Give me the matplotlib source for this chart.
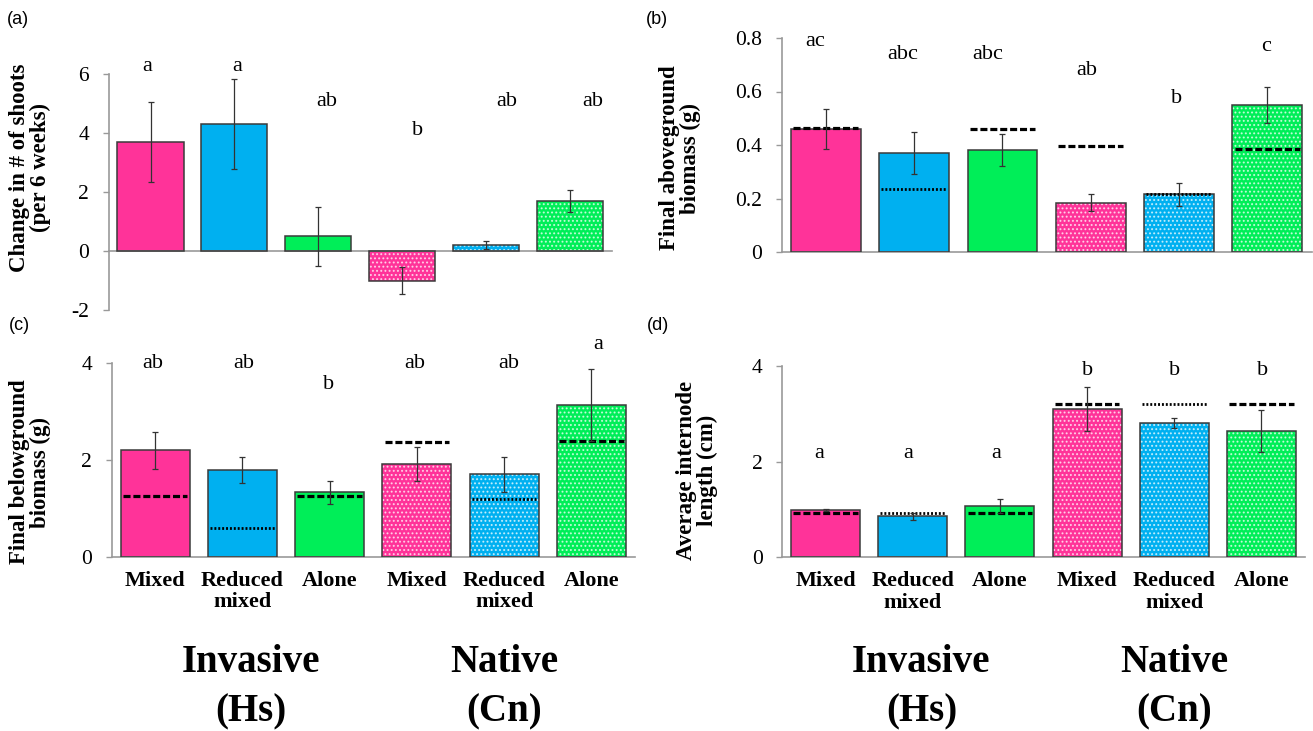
import numpy as np
import matplotlib.pyplot as plt
from matplotlib import transforms

plt.rcParams['font.family'] = ['Liberation Serif', 'DejaVu Serif']
plt.rcParams['hatch.linewidth'] = 0.9

# treatment groups: invasive (Hs) then native (Cn)
categories = ['Mixed', 'Reduced\nmixed', 'Alone', 'Mixed', 'Reduced\nmixed', 'Alone']
groups = ['Invasive', 'Native']
group_codes = ['(Hs)', '(Cn)']

# (a) change in number of shoots
shoots = [3.7, 4.3, 0.5, -1.0, 0.2, 1.7]
shoots_err = [1.35, 1.52, 1.0, 0.45, 0.13, 0.37]
shoots_letters = ['a', 'a', 'ab', 'b', 'ab', 'ab']

# (b) final aboveground biomass
above = [0.46, 0.37, 0.38, 0.185, 0.215, 0.55]
above_err = [0.076, 0.079, 0.06, 0.03, 0.043, 0.066]
above_ref = [0.462, 0.234, 0.46, 0.396, 0.217, 0.386]
above_letters = ['ac', 'abc', 'abc', 'ab', 'b', 'c']

# (c) final belowground biomass
below = [2.2, 1.79, 1.33, 1.92, 1.71, 3.14]
below_err = [0.38, 0.27, 0.23, 0.35, 0.36, 0.74]
below_ref = [1.25, 0.60, 1.25, 2.37, 1.20, 2.40]
below_letters = ['ab', 'ab', 'b', 'ab', 'ab', 'a']

# (d) average internode length
internode = [0.99, 0.86, 1.08, 3.10, 2.81, 2.64]
internode_err = [0.03, 0.07, 0.145, 0.46, 0.10, 0.44]
internode_ref = [0.935, 0.935, 0.935, 3.21, 3.21, 3.21]
internode_letters = ['a', 'a', 'a', 'b', 'b', 'b']

colors = ['#FF3399', '#00B0F0', '#00EE58', '#FF3399', '#00B0F0', '#00EE58']
native = [False, False, False, True, True, True]
ref_dotted = [False, True, False, False, True, False]

W, H = 1313, 731
fig = plt.figure(figsize=(W / 100, H / 100), dpi=100)


def px_axes(left, right, top, bottom):
    return fig.add_axes([left / W, 1 - bottom / H, (right - left) / W, (bottom - top) / H])


def draw_panel(ax, vals, errs, refs, letters, letter_pos, ylim, yticks, yticklabels):
    x = np.arange(len(vals))
    ax.bar(x, vals, width=0.79, color=colors, edgecolor='none', linewidth=0, zorder=2)
    for i in x:
        if native[i]:
            ax.bar(i, vals[i], width=0.79, color='none', edgecolor=(1, 1, 1, 0.7),
                   linewidth=0, hatch='....', zorder=2.5)
    ax.bar(x, vals, width=0.79, fill=False, edgecolor='#3a3a3a', linewidth=1.1, zorder=3)
    if refs is not None:
        for i in x:
            if ref_dotted[i]:
                ax.plot([i - 0.37, i + 0.37], [refs[i]] * 2, color='black', lw=2.0,
                        linestyle=(0, (0.7, 0.7)), solid_capstyle='butt', zorder=4)
            else:
                ax.plot([i - 0.37, i + 0.37], [refs[i]] * 2, color='black', lw=2.3,
                        linestyle=(0, (2.2, 0.9)), zorder=4)
    ax.errorbar(x, vals, yerr=errs, fmt='none', ecolor='#333333', elinewidth=0.9,
                capsize=2.2, capthick=0.9, zorder=5)
    for s, (lx, ly) in zip(letters, letter_pos):
        ax.text(lx, ly, s, ha='center', va='center', fontsize=16, clip_on=False)

    ax.set_xlim(-0.5, len(vals) - 0.5)
    ax.set_ylim(*ylim)
    ax.set_yticks(yticks)
    ax.set_yticklabels(yticklabels, fontsize=15.5)
    for side in ['top', 'right']:
        ax.spines[side].set_visible(False)
    for side in ['left', 'bottom']:
        ax.spines[side].set_color('#999999')
        ax.spines[side].set_linewidth(1.2)
    ax.spines['bottom'].set_position(('data', 0))
    ax.tick_params(axis='y', direction='out', length=4.5, width=1, color='#999999', pad=9.5)
    ax.tick_params(axis='x', length=0)
    ax.set_xticks(x)
    ax.set_xticklabels([])
    ax.patch.set_alpha(0)


ax_a = px_axes(108.6, 611.6, 74, 310)
draw_panel(ax_a, shoots, shoots_err, None, shoots_letters,
           [(-0.04, 6.25), (1.03, 6.25), (2.1, 5.06), (3.19, 4.1), (4.25, 5.06), (5.27, 5.06)],
           (-2, 6), [-2, 0, 2, 4, 6], ['-2', '0', '2', '4', '6'])

ax_b = px_axes(781.6, 1311.5, 38, 252)
draw_panel(ax_b, above, above_err, above_ref, above_letters,
           [(-0.12, 0.786), (0.87, 0.739), (1.83, 0.739), (2.95, 0.678), (3.97, 0.575), (4.98, 0.77)],
           (0, 0.8), [0, 0.2, 0.4, 0.6, 0.8], ['0', '0.2', '0.4', '0.6', '0.8'])

ax_c = px_axes(111.5, 635, 363, 557)
draw_panel(ax_c, below, below_err, below_ref, below_letters,
           [(-0.03, 3.99), (1.02, 3.99), (1.99, 3.55), (2.98, 3.99), (4.05, 3.99), (5.08, 4.39)],
           (0, 4), [0, 2, 4], ['0', '2', '4'])

ax_d = px_axes(782, 1305, 366, 557.3)
draw_panel(ax_d, internode, internode_err, internode_ref, internode_letters,
           [(-0.07, 2.18), (0.95, 2.18), (1.96, 2.18), (3.01, 3.9), (4.0, 3.9), (5.01, 3.9)],
           (0, 4), [0, 2, 4], ['0', '2', '4'])

# category names and species groups under the lower panels
for ax in (ax_c, ax_d):
    ax.set_xticklabels(categories, fontsize=16, fontweight='bold', linespacing=1.1)
    ax.tick_params(axis='x', pad=10)
    trans = transforms.blended_transform_factory(ax.transData, fig.transFigure)
    for gx, name, code in zip([1.1, 4.0], groups, group_codes):
        ax.text(gx, 1 - 662 / H, name, transform=trans, ha='center', va='center',
                fontsize=28, fontweight='bold')
        ax.text(gx, 1 - 712 / H, code, transform=trans, ha='center', va='center',
                fontsize=28, fontweight='bold')

# y axis titles
ylabels = [
    ('Change in # of shoots\n(per 6 weeks)', 30, 168),
    ('Final aboveground\nbiomass (g)', 680, 158),
    ('Final belowground\nbiomass (g)', 30, 472),
    ('Average internode\nlength (cm)', 697, 470),
]
for text, lx, ly in ylabels:
    fig.text(lx / W, 1 - ly / H, text, rotation=90, ha='center', va='center',
             fontsize=16.5, fontweight='bold', linespacing=0.95, multialignment='center')

# panel tags
for tag, tx, ty in [('(a)', 18, 20), ('(b)', 657, 19), ('(c)', 19, 326), ('(d)', 658, 326)]:
    fig.text(tx / W, 1 - ty / H, tag, ha='center', va='center', fontsize=13,
             family=['Liberation Sans', 'DejaVu Sans'])

fig.savefig('out.png', dpi=100)
